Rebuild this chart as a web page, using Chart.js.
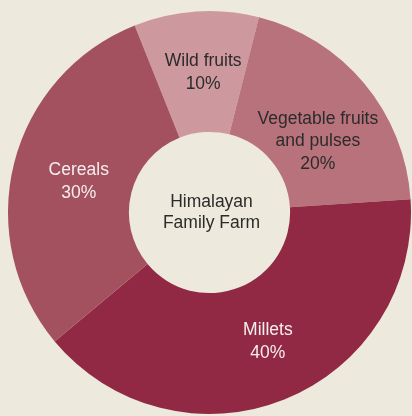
<!DOCTYPE html>
<html>
<head>
    <meta charset="UTF-8">
    <title>Himalayan Family Farm</title>
    <script src="https://cdn.jsdelivr.net/npm/chart.js"></script>
    <style>
        body {
            margin: 0;
            background-color: #edeadd;
        }
        .chart-container {
            width: 412px;
            height: 416px;
        }
    </style>
</head>
<body>
    <div class="chart-container">
        <canvas id="chart"></canvas>
    </div>
    <script>
    // données
    const categories = [['Wild fruits'], ['Vegetable fruits', 'and pulses'], ['Millets'], ['Cereals']];
    const shares = [10, 20, 40, 30];
    const centerText = ['Himalayan', 'Family Farm'];

    const sliceColors = ['#ce989f', '#b8727b', '#912945', '#a3515f'];
    const textColors = ['#2b2b2b', '#2b2b2b', '#f6eeee', '#f6eeee'];
    const labelShift = [[3, 1], [0, 19], [6, -2], [6, 4]];

    const labelPlugin = {
        id: 'sliceLabels',
        afterDatasetsDraw(chart) {
            const ctx = chart.ctx;
            const meta = chart.getDatasetMeta(0);
            ctx.save();
            ctx.font = '17.5px "Liberation Sans", Arial, sans-serif';
            ctx.textAlign = 'center';
            ctx.textBaseline = 'middle';
            const lh = 22.5;
            meta.data.forEach((arc, i) => {
                const pos = arc.tooltipPosition();
                const lines = categories[i].concat([shares[i] + '%']);
                const x = pos.x + labelShift[i][0];
                const y0 = pos.y + labelShift[i][1] - (lines.length - 1) * lh / 2;
                ctx.fillStyle = textColors[i];
                lines.forEach((t, j) => ctx.fillText(t, x, y0 + j * lh));
            });
            // texte central
            const cx = (chart.chartArea.left + chart.chartArea.right) / 2;
            const cy = (chart.chartArea.top + chart.chartArea.bottom) / 2;
            ctx.fillStyle = '#2b2b2b';
            centerText.forEach((t, j) => ctx.fillText(t, cx + 2, cy - 10 + j * 21));
            ctx.restore();
        }
    };

    new Chart(document.getElementById('chart'), {
        type: 'doughnut',
        data: {
            labels: categories.map(c => c.join(' ')),
            datasets: [{
                data: shares,
                backgroundColor: sliceColors,
                borderWidth: 0
            }]
        },
        options: {
            responsive: true,
            maintainAspectRatio: false,
            animation: false,
            rotation: -21.8,
            cutout: '40%',
            layout: {
                padding: { left: 8, right: 1, top: 10, bottom: 1 }
            },
            plugins: {
                legend: { display: false },
                tooltip: { enabled: false }
            }
        },
        plugins: [labelPlugin]
    });
    </script>
</body>
</html>
